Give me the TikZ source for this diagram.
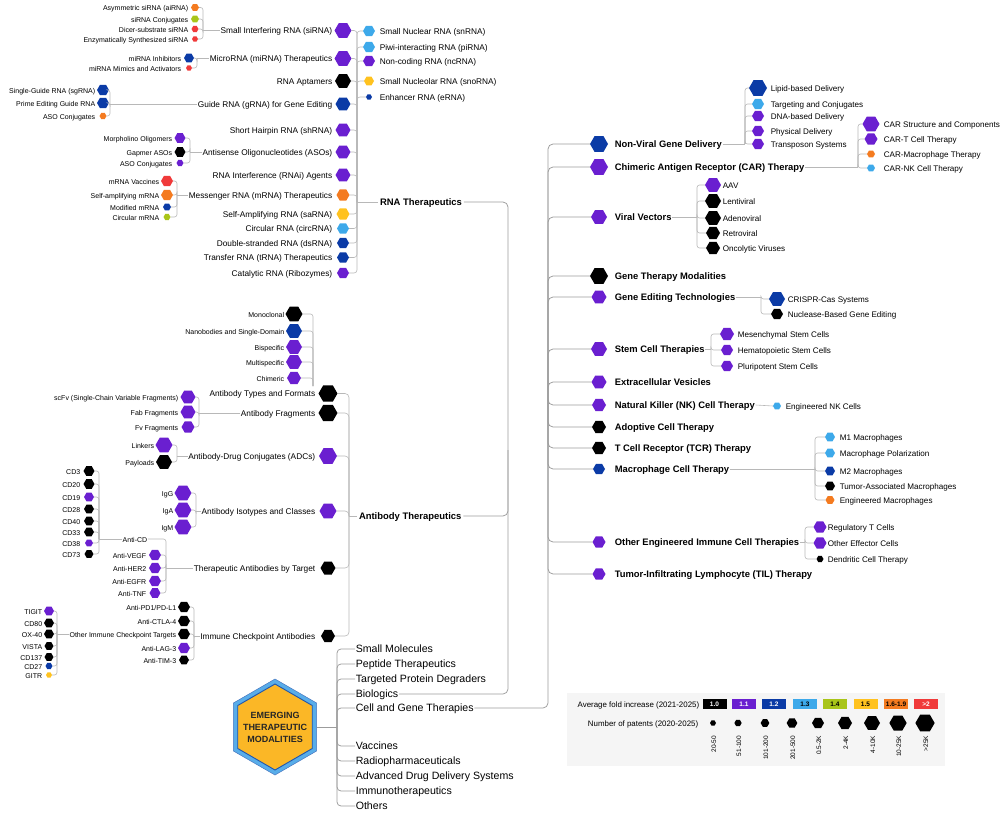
\documentclass[tikz,border=0pt]{standalone}
\usepackage{fontspec}
\setmainfont{Liberation Sans}
\usetikzlibrary{shapes.geometric,calc}
\definecolor{cA}{HTML}{000000}
\definecolor{cB}{HTML}{6A1FD0}
\definecolor{cC}{HTML}{0B3BA6}
\definecolor{cD}{HTML}{3DA9EA}
\definecolor{cE}{HTML}{A9C519}
\definecolor{cF}{HTML}{FFC21F}
\definecolor{cG}{HTML}{F47B20}
\definecolor{cH}{HTML}{F03A3A}
\definecolor{lnk}{HTML}{B8B8B8}
\definecolor{lnkd}{HTML}{9C9C9C}
\definecolor{hexblue}{HTML}{58ADE9}
\definecolor{hexedge}{HTML}{1C55B0}
\definecolor{hexgold}{HTML}{FBB726}
\newcommand\hexL[8]{\node[hexa,minimum size=#4,fill=#5] (#1) at (#2,#3) {};\node[#7,anchor=east] (#1t) at (#6,#3) {#8};}
\newcommand\hexR[8]{\node[hexa,minimum size=#4,fill=#5] (#1) at (#2,#3) {};\node[#7,anchor=west] (#1t) at (#6,#3) {#8};}
\newcommand\brL[4]{\coordinate (#1B) at (#2,#3);\draw[conn] (#1.west) -- (#1B);\foreach \c in {#4} \draw[conn,rounded corners=2.5pt] (#1B) |- (\c.east);}
\newcommand\brR[4]{\coordinate (#1B) at (#2,#3);\draw[conn] (#1.east) -- (#1B);\foreach \c in {#4} \draw[conn,rounded corners=2.5pt] (#1B) |- (\c.west);}
\begin{document}
\begin{tikzpicture}[x=1pt,y=-1pt,
  hexa/.style={regular polygon,regular polygon sides=6,inner sep=0pt,outer sep=0pt,draw=none},
  lab/.style={inner sep=0.8pt,outer sep=0pt,text height=1.45ex,text depth=0.3ex},
  tm/.style={lab,font=\fontsize{10.6}{12}\selectfont},
  tb/.style={lab,inner sep=2pt,font=\fontsize{9.45}{11}\selectfont\bfseries},
  trb/.style={lab,font=\fontsize{9.4}{11}\selectfont\bfseries},
  t2/.style={lab,font=\fontsize{8.3}{10}\selectfont},
  t3/.style={lab,font=\fontsize{7}{8}\selectfont},
  tr3/.style={lab,font=\fontsize{8.1}{9}\selectfont},
  tl/.style={lab,font=\fontsize{7.9}{9}\selectfont},
  lbox/.style={minimum width=24,minimum height=10,inner sep=0pt,font=\fontsize{6.5}{7}\selectfont\bfseries},
  conn/.style={draw=lnk,line width=0.6pt},
  trunk/.style={draw=lnkd,line width=0.75pt}]
\useasboundingbox (0,0) rectangle (1008,813);

% ---------- centre ----------
\node[regular polygon,regular polygon sides=6,shape border rotate=90,minimum size=96,inner sep=0pt,fill=hexblue,draw=hexedge!80,line width=0.5pt] (emo) at (275,727) {};
\node[regular polygon,regular polygon sides=6,shape border rotate=90,minimum size=86,inner sep=0pt,fill=hexgold,draw=hexedge,line width=0.9pt] (emi) at (275,727) {};
\node[align=center,font=\fontsize{9}{12}\selectfont\bfseries,text=black!85] (emt) at (275,727) {EMERGING\\THERAPEUTIC\\MODALITIES};
\coordinate (trunk) at (337,727);
\draw[trunk] (emo.east) -- (trunk);
\node[tm,anchor=west] (sm) at (355,649) {Small Molecules};
\node[tm,anchor=west] (pep) at (355,664) {Peptide Therapeutics};
\node[tm,anchor=west] (tpd) at (355,679) {Targeted Protein Degraders};
\node[tm,anchor=west] (bio) at (355,694) {Biologics};
\node[tm,anchor=west] (cgt) at (355,708) {Cell and Gene Therapies};
\node[tm,anchor=west] (vac) at (355,746) {Vaccines};
\node[tm,anchor=west] (radio) at (355,761) {Radiopharmaceuticals};
\node[tm,anchor=west] (adds) at (355,776) {Advanced Drug Delivery Systems};
\node[tm,anchor=west] (immu) at (355,791) {Immunotherapeutics};
\node[tm,anchor=west] (oth) at (355,806) {Others};
\foreach \c in {sm,pep,tpd,bio,cgt,vac,radio,adds,immu,oth} \draw[trunk,rounded corners=4pt] (trunk) |- (\c.west);

% ---------- RNA therapeutics ----------
\node[tb,anchor=west] (rna) at (378,202) {RNA Therapeutics};
\node[tb,anchor=west] (ab) at (357,516) {Antibody Therapeutics};
\coordinate (bioB) at (508,450);
\draw[trunk,rounded corners=5pt] (bio.east) -| (bioB) |- (rna.east);
\draw[trunk,rounded corners=5pt] (bioB) |- (ab.east);

\hexL{sirna}{343}{30.5}{17}{cB}{333}{t2}{Small Interfering RNA (siRNA)}
\hexL{mirna}{343}{58.5}{17}{cB}{333}{t2}{MicroRNA (miRNA) Therapeutics}
\hexL{apt}{343}{81}{16}{cA}{333}{t2}{RNA Aptamers}
\hexL{grna}{343}{104}{15}{cC}{333}{t2}{Guide RNA (gRNA) for Gene Editing}
\hexL{shrna}{343}{130}{15}{cB}{333}{t2}{Short Hairpin RNA (shRNA)}
\hexL{aso}{343}{152}{15}{cB}{333}{t2}{Antisense Oligonucleotides (ASOs)}
\hexL{rnai}{343}{175}{15}{cB}{333}{t2}{RNA Interference (RNAi) Agents}
\hexL{mrna}{343}{195}{13}{cG}{333}{t2}{Messenger RNA (mRNA) Therapeutics}
\hexL{sarna}{343}{214}{13}{cF}{333}{t2}{Self-Amplifying RNA (saRNA)}
\hexL{circ}{343}{228.5}{12}{cD}{333}{t2}{Circular RNA (circRNA)}
\hexL{dsrna}{343}{243}{12}{cC}{333}{t2}{Double-stranded RNA (dsRNA)}
\hexL{trna}{343}{257.5}{12}{cC}{333}{t2}{Transfer RNA (tRNA) Therapeutics}
\hexL{ribo}{343}{273}{12}{cB}{333}{t2}{Catalytic RNA (Ribozymes)}
\hexR{snrna}{369}{31}{12}{cD}{379}{t2}{Small Nuclear RNA (snRNA)}
\hexR{pirna}{369}{47}{12}{cD}{379}{t2}{Piwi-interacting RNA (piRNA)}
\hexR{ncrna}{369}{61}{12}{cB}{379}{t2}{Non-coding RNA (ncRNA)}
\hexR{snorna}{369}{81}{10}{cF}{379}{t2}{Small Nucleolar RNA (snoRNA)}
\hexR{erna}{369}{97}{6}{cC}{379}{t2}{Enhancer RNA (eRNA)}
\coordinate (rnaB) at (357,202);
\draw[conn] (rna.west) -- (rnaB);
\foreach \c in {sirna,mirna,apt,grna,shrna,aso,rnai,mrna,sarna,circ,dsrna,trna,ribo} \draw[conn,rounded corners=3pt] (rnaB) |- (\c.east);
\foreach \c in {snrna,pirna,ncrna,snorna,erna} \draw[conn,rounded corners=3pt] (rnaB) |- (\c.west);

\hexL{airna}{195}{7.5}{8}{cG}{189}{t3}{Asymmetric siRNA (aiRNA)}
\hexL{sicon}{195}{19}{8}{cE}{189}{t3}{siRNA Conjugates}
\hexL{dicer}{195}{29}{7}{cH}{189}{t3}{Dicer-substrate siRNA}
\hexL{enz}{195}{39}{6}{cH}{189}{t3}{Enzymatically Synthesized siRNA}
\brL{sirnat}{203}{30.5}{airna,sicon,dicer,enz}

\hexL{miinh}{189}{58}{10}{cC}{182}{t3}{miRNA Inhibitors}
\hexL{mimim}{189}{68}{6}{cH}{182}{t3}{miRNA Mimics and Activators}
\brL{mirnat}{197}{58.5}{miinh,mimim}

\hexL{sgrna}{103}{90}{12}{cC}{96}{t3}{Single-Guide RNA (sgRNA)}
\hexL{pegrna}{103}{103}{12}{cC}{96}{t3}{Prime Editing Guide RNA}
\hexL{asocon}{103}{116}{7}{cG}{96}{t3}{ASO Conjugates}
\brL{grnat}{110}{104}{sgrna,pegrna,asocon}

\hexL{morph}{180}{138}{11}{cB}{173}{t3}{Morpholino Oligomers}
\hexL{gapmer}{180}{152}{11}{cA}{173}{t3}{Gapmer ASOs}
\hexL{asoconb}{180}{163}{7}{cB}{173}{t3}{ASO Conjugates}
\brL{asot}{190}{152}{morph,gapmer,asoconb}

\hexL{mvac}{167}{181}{12}{cH}{160}{t3}{mRNA Vaccines}
\hexL{samrna}{167}{195}{12}{cG}{160}{t3}{Self-amplifying mRNA}
\hexL{modm}{167}{207}{8}{cC}{160}{t3}{Modified mRNA}
\hexL{circm}{167}{217}{7}{cE}{160}{t3}{Circular mRNA}
\brL{mrnat}{177}{195}{mvac,samrna,modm,circm}

% ---------- Antibody therapeutics ----------
\hexL{abtf}{328}{393.5}{19}{cA}{316}{t2}{Antibody Types and Formats}
\hexL{abfr}{328}{413}{19}{cA}{316}{t2}{Antibody Fragments}
\hexL{adc}{328}{456}{18}{cB}{316}{t2}{Antibody-Drug Conjugates (ADCs)}
\hexL{iso}{328}{511}{17}{cB}{316}{t2}{Antibody Isotypes and Classes}
\hexL{tgt}{328}{568}{15}{cA}{316}{t2}{Therapeutic Antibodies by Target}
\hexL{icp}{328}{636}{14}{cA}{316}{t2}{Immune Checkpoint Antibodies}
\coordinate (abB) at (349,516);
\draw[conn] (ab.west) -- (abB);
\foreach \c in {abtf,abfr,adc,iso,tgt,icp} \draw[conn,rounded corners=4pt] (abB) |- (\c.east);

\hexL{mono}{294}{314}{17}{cA}{285}{t3}{Monoclonal}
\hexL{nano}{294}{331}{16}{cC}{285}{t3}{Nanobodies and Single-Domain}
\hexL{bisp}{294}{347}{16}{cB}{285}{t3}{Bispecific}
\hexL{multi}{294}{362}{16}{cB}{285}{t3}{Multispecific}
\hexL{chim}{294}{378}{14}{cB}{285}{t3}{Chimeric}
\coordinate (atB) at (313,386);
\foreach \c in {mono,nano,bisp,multi,chim} \draw[conn,rounded corners=2.5pt] (atB) |- (\c.east);

\hexL{scfv}{188}{397}{15}{cB}{179}{t3}{scFv (Single-Chain Variable Fragments)}
\hexL{fab}{188}{412}{15}{cB}{179}{t3}{Fab Fragments}
\hexL{fv}{188}{427}{13}{cB}{179}{t3}{Fv Fragments}
\brL{abfrt}{199}{413}{scfv,fab,fv}

\hexL{link}{164}{445}{17}{cB}{155}{t3}{Linkers}
\hexL{pay}{164}{462}{16}{cA}{155}{t3}{Payloads}
\brL{adct}{177}{456}{link,pay}

\hexL{igg}{183}{493}{17}{cB}{174}{t3}{IgG}
\hexL{iga}{183}{510}{17}{cB}{174}{t3}{IgA}
\hexL{igm}{183}{527}{17}{cB}{174}{t3}{IgM}
\brL{isot}{196}{511}{igg,iga,igm}

\node[t3,anchor=east] (anticd) at (148,539) {Anti-CD};
\hexL{vegf}{155}{555}{12}{cB}{147}{t3}{Anti-VEGF}
\hexL{her2}{155}{568}{12}{cB}{147}{t3}{Anti-HER2}
\hexL{egfr}{155}{581}{12}{cB}{147}{t3}{Anti-EGFR}
\hexL{tnf}{155}{593}{11}{cB}{147}{t3}{Anti-TNF}
\brL{tgtt}{166}{568}{anticd,vegf,her2,egfr,tnf}

\hexL{cdiii}{89}{471}{11}{cA}{81}{t3}{CD3}
\hexL{cdxx}{89}{484}{11}{cA}{81}{t3}{CD20}
\hexL{cdxix}{89}{497}{10}{cB}{81}{t3}{CD19}
\hexL{cdxxviii}{89}{509}{10}{cA}{81}{t3}{CD28}
\hexL{cdxl}{89}{521}{10}{cA}{81}{t3}{CD40}
\hexL{cdxxxiii}{89}{532}{10}{cA}{81}{t3}{CD33}
\hexL{cdxxxviii}{89}{543}{8}{cB}{81}{t3}{CD38}
\hexL{cdlxxiii}{89}{554}{9}{cA}{81}{t3}{CD73}
\brL{anticd}{99}{539}{cdiii,cdxx,cdxix,cdxxviii,cdxl,cdxxxiii,cdxxxviii,cdlxxiii}

\hexL{pdi}{184}{607}{12}{cA}{177}{t3}{Anti-PD1/PD-L1}
\hexL{ctla}{184}{621}{12}{cA}{177}{t3}{Anti-CTLA-4}
\hexL{oict}{184}{634}{12}{cA}{177}{t3}{Other Immune Checkpoint Targets}
\hexL{lag}{184}{648}{12}{cB}{177}{t3}{Anti-LAG-3}
\hexL{tim}{184}{660}{10}{cA}{177}{t3}{Anti-TIM-3}
\brL{icpt}{194}{636}{pdi,ctla,oict,lag,tim}

\hexL{tigit}{49}{611}{10}{cB}{43}{t3}{TIGIT}
\hexL{cdlxxx}{49}{623}{10}{cA}{43}{t3}{CD80}
\hexL{oxforty}{49}{634}{10}{cA}{43}{t3}{OX-40}
\hexL{vista}{49}{646}{9}{cA}{43}{t3}{VISTA}
\hexL{cdcxxxvii}{49}{657}{9}{cA}{43}{t3}{CD137}
\hexL{cdxxvii}{49}{666}{7}{cC}{43}{t3}{CD27}
\hexL{gitr}{49}{675}{6}{cF}{43}{t3}{GITR}
\brL{oictt}{57}{634}{tigit,cdlxxx,oxforty,vista,cdcxxxvii,cdxxvii,gitr}

% ---------- Cell and gene therapies ----------
\coordinate (cgB) at (548,400);
\draw[trunk,rounded corners=5pt] (cgt.east) -| (cgB);
\hexR{nvgd}{599}{144}{18}{cC}{614}{trb}{Non-Viral Gene Delivery}
\hexR{car}{599}{167}{18}{cB}{614}{trb}{Chimeric Antigen Receptor (CAR) Therapy}
\hexR{vv}{599}{217}{16}{cB}{614}{trb}{Viral Vectors}
\hexR{gtm}{599}{276}{18}{cA}{614}{trb}{Gene Therapy Modalities}
\hexR{get}{599}{297}{15}{cB}{614}{trb}{Gene Editing Technologies}
\hexR{stem}{599}{349}{16}{cB}{614}{trb}{Stem Cell Therapies}
\hexR{ev}{599}{382}{15}{cB}{614}{trb}{Extracellular Vesicles}
\hexR{nk}{599}{405}{14}{cB}{614}{trb}{Natural Killer (NK) Cell Therapy}
\hexR{act}{599}{427}{14}{cA}{614}{trb}{Adoptive Cell Therapy}
\hexR{tcr}{599}{448}{14}{cA}{614}{trb}{T Cell Receptor (TCR) Therapy}
\hexR{mac}{599}{469}{12}{cC}{614}{trb}{Macrophage Cell Therapy}
\hexR{oeict}{599}{542}{13}{cB}{614}{trb}{Other Engineered Immune Cell Therapies}
\hexR{til}{599}{574}{13}{cB}{614}{trb}{Tumor-Infiltrating Lymphocyte (TIL) Therapy}
\foreach \c in {nvgd,car,vv,gtm,get,stem,ev,nk,act,tcr,mac,oeict,til} \draw[trunk,rounded corners=5pt] (cgB) |- (\c.west);

\hexR{lipid}{758}{88}{18}{cC}{770}{tr3}{Lipid-based Delivery}
\hexR{targ}{758}{104}{12}{cD}{770}{tr3}{Targeting and Conjugates}
\hexR{dna}{758}{116}{12}{cB}{770}{tr3}{DNA-based Delivery}
\hexR{phys}{758}{131}{12}{cB}{770}{tr3}{Physical Delivery}
\hexR{trans}{758}{144}{12}{cB}{770}{tr3}{Transposon Systems}
\brR{nvgdt}{745}{144}{lipid,targ,dna,phys,trans}

\hexR{cars}{871}{124}{17}{cB}{883}{tr3}{CAR Structure and Components}
\hexR{cartc}{871}{139}{13}{cB}{883}{tr3}{CAR-T Cell Therapy}
\hexR{carm}{871}{154}{8}{cG}{883}{tr3}{CAR-Macrophage Therapy}
\hexR{carnk}{871}{168}{8}{cD}{883}{tr3}{CAR-NK Cell Therapy}
\brR{cart}{858}{167}{cars,cartc,carm,carnk}

\hexR{aav}{713}{185}{16}{cB}{722}{tr3}{AAV}
\hexR{lenti}{713}{201}{16}{cA}{722}{tr3}{Lentiviral}
\hexR{adeno}{713}{218}{16}{cA}{722}{tr3}{Adenoviral}
\hexR{retro}{713}{233}{14}{cA}{722}{tr3}{Retroviral}
\hexR{onco}{713}{248}{14}{cA}{722}{tr3}{Oncolytic Viruses}
\brR{vvt}{697}{217}{aav,lenti,adeno,retro,onco}

\hexR{crispr}{777}{299}{16}{cC}{787}{tr3}{CRISPR-Cas Systems}
\hexR{nucl}{777}{314}{12}{cA}{787}{tr3}{Nuclease-Based Gene Editing}
\brR{gett}{761}{297}{crispr,nucl}

\hexR{msc}{727}{334}{14}{cB}{737}{tr3}{Mesenchymal Stem Cells}
\hexR{hsc}{727}{350}{12}{cB}{737}{tr3}{Hematopoietic Stem Cells}
\hexR{psc}{727}{366}{12}{cB}{737}{tr3}{Pluripotent Stem Cells}
\brR{stemt}{711}{349}{msc,hsc,psc}

\hexR{enk}{777}{406}{8}{cD}{785}{tr3}{Engineered NK Cells}
\draw[conn] (nkt.east) -- (enk.west);

\hexR{mi}{830}{437}{10}{cD}{839}{tr3}{M1 Macrophages}
\hexR{mpol}{830}{453}{10}{cD}{839}{tr3}{Macrophage Polarization}
\hexR{mii}{830}{471}{10}{cC}{839}{tr3}{M2 Macrophages}
\hexR{tam}{830}{486}{10}{cA}{839}{tr3}{Tumor-Associated Macrophages}
\hexR{emac}{830}{500}{9}{cG}{839}{tr3}{Engineered Macrophages}
\brR{mact}{815}{469}{mi,mpol,mii,tam,emac}

\hexR{treg}{820}{527}{13}{cB}{827}{tr3}{Regulatory T Cells}
\hexR{oeff}{820}{543}{13}{cB}{827}{tr3}{Other Effector Cells}
\hexR{dc}{820}{559}{7}{cA}{827}{tr3}{Dendritic Cell Therapy}
\brR{oeictt}{805}{542}{treg,oeff,dc}

% ---------- legend ----------
\fill[black!4] (567,693) rectangle (945,766);
\node[tl,anchor=east] (lga) at (700,704) {Average fold increase (2021-2025)};
\node[tl,anchor=east] (lgb) at (699,723) {Number of patents (2020-2025)};
\node[lbox,fill=cA,text=white] (ka) at (714.5,704) {1.0};
\node[lbox,fill=cB,text=white] (kb) at (744,704) {1.1};
\node[lbox,fill=cC,text=white] (kc) at (774,704) {1.2};
\node[lbox,fill=cD,text=black] (kd) at (805,704) {1.3};
\node[lbox,fill=cE,text=black] (ke) at (835,704) {1.4};
\node[lbox,fill=cF,text=black] (kf) at (865.5,704) {1.5};
\node[lbox,fill=cG,text=black] (kg) at (896,704) {1.6-1.9};
\node[lbox,fill=cH,text=white] (kh) at (926,704) {>2};
\foreach \n/\x/\s/\t in {sa/713/6/20-50,sb/738/7.3/51-100,sc/765/8.7/101-200,sd/792/10.7/201-500,se/818/12/0.5-2K,sf/845/14/2-4K,sg/872/16/4-10K,sh/898/17.3/10-25K,si/925/19.3/>25K}{
  \node[hexa,fill=black,minimum size=\s] (\n) at (\x,723) {};
  \node[lab,font=\fontsize{6.5}{7}\selectfont,rotate=90,anchor=east] (\n t) at (\x,735) {\t};
}
\end{tikzpicture}
\end{document}
